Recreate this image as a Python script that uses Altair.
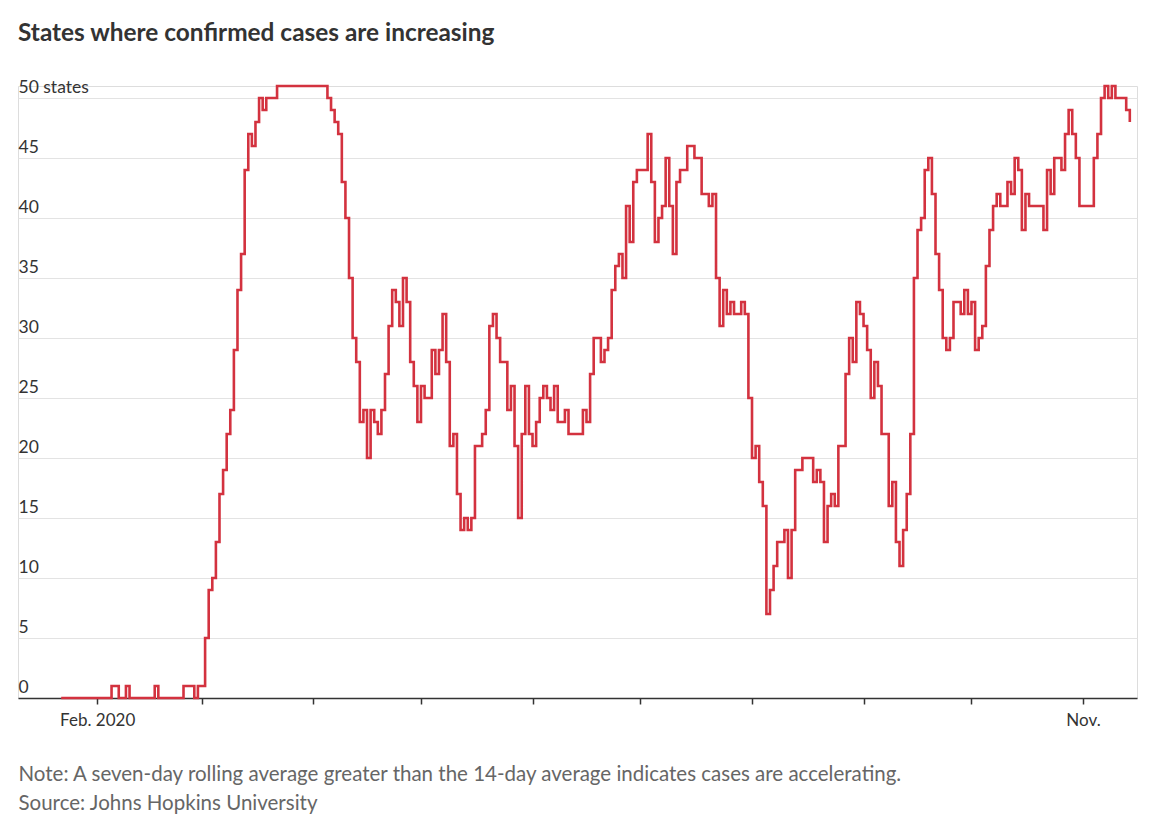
import altair as alt
import pandas as pd

# Dates on which the count changes (step-after) and the number of states with increasing cases
change_dates = [
    "2020-01-22", "2020-02-05", "2020-02-07", "2020-02-09", "2020-02-10", "2020-02-17", "2020-02-18",
    "2020-02-25", "2020-02-28", "2020-02-29",
    "2020-03-02", "2020-03-03", "2020-03-04", "2020-03-05", "2020-03-06", "2020-03-07", "2020-03-08",
    "2020-03-09", "2020-03-10", "2020-03-11", "2020-03-12", "2020-03-13", "2020-03-14", "2020-03-15",
    "2020-03-16", "2020-03-17", "2020-03-18", "2020-03-19", "2020-03-22",
    "2020-04-05", "2020-04-06", "2020-04-07", "2020-04-08", "2020-04-09", "2020-04-10", "2020-04-11",
    "2020-04-12", "2020-04-13", "2020-04-14", "2020-04-15", "2020-04-16", "2020-04-17", "2020-04-18",
    "2020-04-19", "2020-04-20", "2020-04-21", "2020-04-22", "2020-04-23", "2020-04-24", "2020-04-25",
    "2020-04-26", "2020-04-27", "2020-04-28", "2020-04-29", "2020-04-30",
    "2020-05-01", "2020-05-02", "2020-05-04", "2020-05-05", "2020-05-06", "2020-05-07", "2020-05-08",
    "2020-05-09", "2020-05-10", "2020-05-11", "2020-05-12", "2020-05-13", "2020-05-14", "2020-05-15",
    "2020-05-16", "2020-05-18", "2020-05-19", "2020-05-20", "2020-05-21", "2020-05-22", "2020-05-23",
    "2020-05-25", "2020-05-26", "2020-05-27", "2020-05-28", "2020-05-29", "2020-05-30", "2020-05-31",
    "2020-06-01", "2020-06-02", "2020-06-03", "2020-06-04", "2020-06-05", "2020-06-06", "2020-06-07",
    "2020-06-08", "2020-06-10", "2020-06-11", "2020-06-15", "2020-06-16", "2020-06-17", "2020-06-18",
    "2020-06-20", "2020-06-21", "2020-06-22", "2020-06-23", "2020-06-24", "2020-06-25", "2020-06-26",
    "2020-06-27", "2020-06-28", "2020-06-29", "2020-06-30",
    "2020-07-03", "2020-07-04", "2020-07-05", "2020-07-06", "2020-07-07", "2020-07-08", "2020-07-09",
    "2020-07-10", "2020-07-11", "2020-07-12", "2020-07-14", "2020-07-16", "2020-07-18", "2020-07-20",
    "2020-07-21", "2020-07-22", "2020-07-23", "2020-07-24", "2020-07-25", "2020-07-26", "2020-07-27",
    "2020-07-29", "2020-07-30", "2020-07-31",
    "2020-08-01", "2020-08-02", "2020-08-03", "2020-08-04", "2020-08-05", "2020-08-06", "2020-08-07",
    "2020-08-08", "2020-08-10", "2020-08-11", "2020-08-12", "2020-08-13", "2020-08-15", "2020-08-18",
    "2020-08-19", "2020-08-20", "2020-08-21", "2020-08-22", "2020-08-23", "2020-08-24", "2020-08-25",
    "2020-08-27", "2020-08-28", "2020-08-29", "2020-08-30", "2020-08-31",
    "2020-09-01", "2020-09-02", "2020-09-03", "2020-09-04", "2020-09-05", "2020-09-06", "2020-09-08",
    "2020-09-09", "2020-09-10", "2020-09-11", "2020-09-12", "2020-09-13", "2020-09-14", "2020-09-15",
    "2020-09-16", "2020-09-17", "2020-09-18", "2020-09-19", "2020-09-20", "2020-09-21", "2020-09-22",
    "2020-09-23", "2020-09-24", "2020-09-25", "2020-09-26", "2020-09-28", "2020-09-29", "2020-09-30",
    "2020-10-01", "2020-10-02", "2020-10-03", "2020-10-04", "2020-10-05", "2020-10-06", "2020-10-07",
    "2020-10-08", "2020-10-09", "2020-10-11", "2020-10-12", "2020-10-13", "2020-10-14", "2020-10-15",
    "2020-10-16", "2020-10-17", "2020-10-21", "2020-10-22", "2020-10-23", "2020-10-24", "2020-10-26",
    "2020-10-27", "2020-10-28", "2020-10-29", "2020-10-30", "2020-10-31",
    "2020-11-04", "2020-11-05", "2020-11-06", "2020-11-07", "2020-11-08", "2020-11-09", "2020-11-10",
    "2020-11-13", "2020-11-14",
]
states_increasing = [
    0, 1, 0, 1, 0, 1, 0,
    1, 0, 1,
    5, 9, 10, 13, 17, 19, 22,
    24, 29, 34, 37, 44, 47, 46,
    48, 50, 49, 50, 51,
    50, 49, 48, 47, 43, 40, 35,
    30, 28, 23, 24, 20, 24, 23,
    22, 24, 27, 31, 34, 33, 31,
    35, 33, 28, 26, 23,
    26, 25, 29, 27, 29, 32, 28,
    21, 22, 17, 14, 15, 14, 15,
    21, 22, 24, 31, 32, 30, 28,
    24, 26, 21, 15, 22, 26, 22,
    21, 23, 25, 26, 25, 24, 26,
    23, 24, 22, 24, 23, 27, 30,
    28, 29, 30, 34, 36, 37, 35,
    41, 38, 43, 44,
    47, 43, 38, 40, 41, 45, 41,
    37, 43, 44, 46, 45, 42, 41,
    42, 35, 31, 34, 32, 33, 32,
    33, 32, 25,
    20, 21, 18, 16, 7, 9, 11,
    13, 14, 10, 14, 19, 20, 18,
    19, 18, 13, 16, 17, 16, 21,
    27, 30, 28, 33, 32,
    31, 29, 25, 28, 26, 22, 16,
    18, 13, 11, 14, 17, 22, 35,
    39, 40, 44, 45, 42, 37, 34,
    30, 29, 30, 33, 32, 34, 32,
    33, 29, 30, 31, 36, 39, 41,
    42, 41, 43, 42, 45, 44, 39,
    42, 41, 39, 44, 42, 45, 44,
    47, 49, 47, 45, 41,
    45, 47, 50, 51, 50, 51, 50,
    49, 48,
]

y_ticks = [0, 5, 10, 15, 20, 25, 30, 35, 40, 45, 50]
month_ticks = [(2020, m) for m in range(2, 12)]

title_text = "States where confirmed cases are increasing"
note_text = "Note: A seven-day rolling average greater than the 14-day average indicates cases are accelerating."
source_text = "Source: Johns Hopkins University"

df = pd.DataFrame({"date": change_dates, "states": states_increasing})

FONT = "Lato"

x_axis = alt.Axis(
    values=[alt.DateTime(year=y, month=m, date=1, utc=True) for y, m in month_ticks],
    labelExpr="utcmonth(datum.value) == 1 ? 'Feb. 2020' : (utcmonth(datum.value) == 10 ? 'Nov.' : '')",
    grid=False,
    domain=True,
    domainColor="#333333",
    domainWidth=1.5,
    ticks=True,
    tickColor="#333333",
    tickWidth=1.5,
    tickSize=6,
    labelPadding=8,
    labelFontSize=17,
    labelFont=FONT,
    labelColor="#333333",
    labelFlush=False,
    labelOverlap=False,
    title=[note_text, source_text],
    titleAnchor="start",
    titleAlign="left",
    titleBaseline="top",
    titleFont=FONT,
    titleFontSize=20.5,
    titleFontWeight="normal",
    titleColor="#666666",
    titleLineHeight=29,
    titlePadding=36,
)

y_axis = alt.Axis(
    values=y_ticks,
    labelExpr="datum.value == 50 ? '50 states' : datum.label",
    orient="left",
    grid=True,
    gridColor="#e3e3e3",
    gridWidth=1,
    domain=False,
    ticks=False,
    tickSize=0,
    labelAlign="left",
    labelBaseline="bottom",
    labelPadding=0,
    labelOffset=-2,
    labelFontSize=17.5,
    labelFont=FONT,
    labelColor="#333333",
    title=None,
)

chart = (
    alt.Chart(df)
    .mark_line(interpolate="step-after", color="#d3323f", strokeWidth=2.6)
    .encode(
        x=alt.X(
            "date:T",
            scale=alt.Scale(
                type="utc",
                domain=[
                    alt.DateTime(year=2020, month=1, date=10, utc=True),
                    alt.DateTime(year=2020, month=11, date=16, utc=True),
                ],
            ),
            axis=x_axis,
        ),
        y=alt.Y("states:Q", scale=alt.Scale(domain=[0, 51], nice=False, zero=True), axis=y_axis),
    )
    .properties(
        width=1119,
        height=612,
        padding={"left": 10, "right": 10, "top": 12, "bottom": 10},
        title=alt.TitleParams(
            title_text,
            anchor="start",
            frame="group",
            font=FONT,
            fontSize=24.4,
            fontWeight="bold",
            color="#333333",
            offset=32,
        ),
    )
    .configure_view(strokeWidth=0, stroke="transparent")
    .configure(background="white")
)

chart.save("out.html", embed_options={"renderer": "svg", "actions": False})
